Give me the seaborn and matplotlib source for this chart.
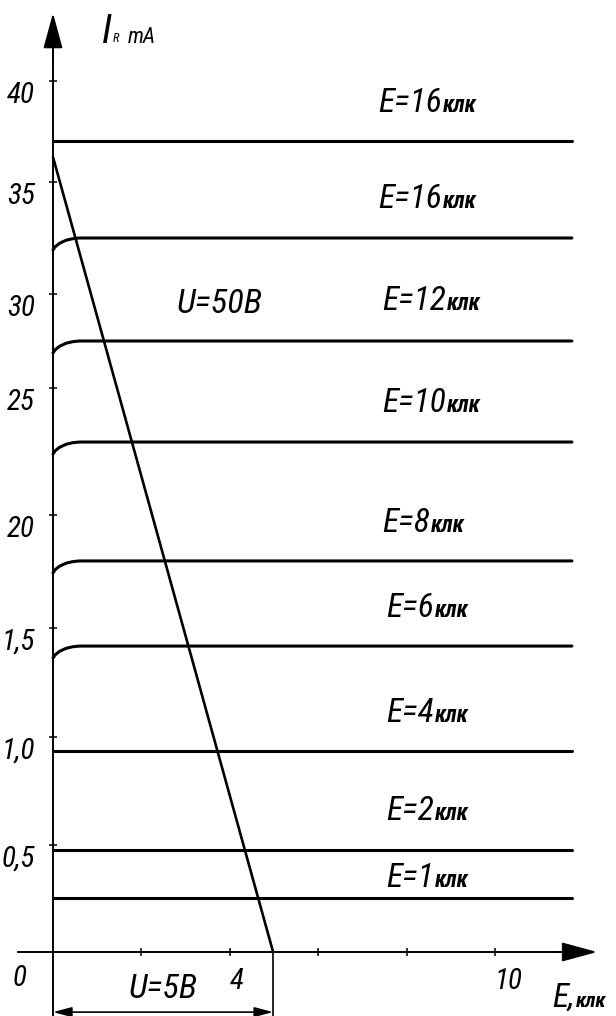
import matplotlib
matplotlib.use("Agg")
import numpy as np
import pandas as pd
import seaborn as sns
import matplotlib.pyplot as plt
from matplotlib import font_manager as fm

# ---------------- data ----------------
E_labels = ["E=16", "E=16", "E=12", "E=10", "E=8", "E=6", "E=4", "E=2", "E=1"]
unit_label = "клк"
I_sat = [37.24, 32.79, 28.06, 23.42, 17.96, 14.05, 9.23, 4.68, 2.48]
has_knee = [False, True, True, True, True, True, False, False, False]
knee_E = [0.0, 0.05, 0.15, 0.30, 0.45, 0.60]
knee_drop = [0.55, 0.40, 0.24, 0.10, 0.03, 0.0]
E_end = 11.74

load_E = [0.0, 4.98]
load_I = [36.51, 0.0]

y_tick_vals = [4.91, 9.87, 14.88, 20.07, 25.9, 30.22, 35.36, 40.0]
y_tick_labels = ["0,5", "1,0", "1,5", "20", "25", "30", "35", "40"]
x_tick_vals = [2, 4, 6, 8, 10]
x_tick_labels = ["", "4", "", "", "10"]

# label anchor positions (data units)
label_x = [7.35, 7.35, 7.44, 7.44, 7.44, 7.53, 7.53, 7.53, 7.53]
label_y = [38.58, 34.17, 29.48, 24.80, 19.29, 15.38, 10.56, 6.06, 2.99]

# ---------------- build long table ----------------
rows = []
for i, (lev, knee) in enumerate(zip(I_sat, has_knee)):
    if knee:
        for e, d in zip(knee_E, knee_drop):
            rows.append((i, e, lev - d))
        rows.append((i, E_end, lev))
    else:
        rows.append((i, 0.0, lev))
        rows.append((i, E_end, lev))
df = pd.DataFrame(rows, columns=["curve", "E", "I"])
load_df = pd.DataFrame({"E": load_E, "I": load_I})

# ---------------- font choice (prefer a narrow face) ----------------
sns.set_theme(style="white")
entries = fm.fontManager.ttflist
names = {f.name for f in entries}
FAM, STRETCH = "DejaVu Sans", "normal"
for cand in ["Liberation Sans Narrow", "Roboto Condensed", "Open Sans Condensed",
             "Noto Sans Condensed", "DejaVu Sans Condensed"]:
    if cand in names:
        FAM = cand
        break
else:
    def _st(v):
        return v if isinstance(v, (int, float)) else {
            "ultra-condensed": 100, "extra-condensed": 200, "condensed": 300,
            "semi-condensed": 400, "normal": 500}.get(v, 500)
    found = False
    for fam in ["Noto Sans", "Open Sans", "Roboto", "DejaVu Sans"]:
        for f in entries:
            if f.name == fam and _st(f.stretch) in (200, 300, 400) and f.style != "normal":
                FAM, STRETCH, found = fam, f.stretch, True
                break
        if found:
            break
    if not found:
        for fam in ["Noto Sans", "Open Sans", "Roboto", "DejaVu Sans"]:
            for f in entries:
                if f.name == fam and _st(f.stretch) in (200, 300, 400):
                    FAM, STRETCH, found = fam, f.stretch, True
                    break
            if found:
                break

FONT = dict(family=[FAM, "DejaVu Sans"], stretch=STRETCH, style="italic")
plt.rcParams["font.family"] = [FAM, "DejaVu Sans"]
plt.rcParams["text.color"] = "black"

fig = plt.figure(figsize=(6.16, 10.16), dpi=100)
ax = fig.add_axes([0, 0, 1, 1])
XMIN, XMAX = -1.199, 12.738
YMIN, YMAX = -2.939, 43.72
ax.set_xlim(XMIN, XMAX)
ax.set_ylim(YMIN, YMAX)
ax.set_facecolor("white")

sns.lineplot(data=df, x="E", y="I", units="curve", estimator=None, sort=False,
             color="black", lw=2.2, legend=False, ax=ax)
sns.lineplot(data=load_df, x="E", y="I", estimator=None, sort=False,
             color="black", lw=1.9, legend=False, ax=ax)
ax.set_xlabel("")
ax.set_ylabel("")

# axes spines through origin
for s in ["top", "right"]:
    ax.spines[s].set_visible(False)
ax.spines["left"].set_position(("data", 0))
ax.spines["bottom"].set_position(("data", 0))
ax.spines["left"].set_bounds(YMIN, 42.0)
ax.spines["bottom"].set_bounds(-0.79, 11.8)
for s in ["left", "bottom"]:
    ax.spines[s].set_color("black")
    ax.spines[s].set_linewidth(1.4)

# arrow heads
ax.annotate("", xy=(0, 43.12), xytext=(0, 41.0),
            arrowprops=dict(arrowstyle="-|>,head_length=1.1,head_width=0.3",
                            mutation_scale=20, color="black", lw=1.4,
                            shrinkA=0, shrinkB=0))
ax.annotate("", xy=(12.31, 0), xytext=(11.3, 0),
            arrowprops=dict(arrowstyle="-|>,head_length=1.1,head_width=0.3",
                            mutation_scale=20, color="black", lw=1.4,
                            shrinkA=0, shrinkB=0))

renderer = fig.canvas.get_renderer()


def width_px(t):
    return t.get_window_extent(renderer).width


def fit(t, target_w):
    t.set_fontsize(t.get_fontsize() * target_w / width_px(t))
    return t.get_fontsize()


# tick label size: "40" is ~28 px wide in the reference
probe = ax.text(0, 0, "40", fontsize=20, **FONT)
tick_size = min(fit(probe, 28), 21.0)
probe.remove()

ax.set_yticks(y_tick_vals, y_tick_labels)
ax.set_xticks(x_tick_vals, x_tick_labels)
ax.tick_params(axis="both", direction="inout", length=6, width=1.1,
               colors="black", left=True, bottom=True)
ax.tick_params(axis="y", pad=10)
ax.tick_params(axis="x", pad=8)
for lbl in ax.get_yticklabels() + ax.get_xticklabels():
    lbl.set_family(FONT["family"])
    lbl.set_stretch(STRETCH)
    lbl.set_style("italic")
    lbl.set_fontsize(tick_size)
for lbl in ax.get_yticklabels():
    lbl.set_verticalalignment("top")
for lbl in ax.get_xticklabels():
    lbl.set_horizontalalignment("left")

ax.text(-0.75, -1.19, "0", fontsize=tick_size, ha="center", va="center", **FONT)

# dimension line U=5B
ax.vlines(load_E[-1], YMIN, 0, color="black", lw=1.2)
ax.annotate("", xy=(load_E[0], -2.76), xytext=(load_E[-1], -2.76),
            arrowprops=dict(arrowstyle="<|-|>,head_length=0.75,head_width=0.2",
                            mutation_scale=15, color="black", lw=1.2,
                            shrinkA=0, shrinkB=0))
tU5 = ax.text(1.70, -2.11, "U=5B", fontsize=24, ha="left", va="baseline", **FONT)
fit(tU5, 69)
tU50 = ax.text(2.80, 29.35, "U=50B", fontsize=24, ha="left", va="baseline", **FONT)
fit(tU50, 86)

# E labels
probeE = ax.text(0, 0, "E=16", fontsize=24, **FONT)
sizeE = fit(probeE, 64)
probeE.remove()
probeK = ax.text(0, 0, unit_label, fontsize=14, fontweight="bold", **FONT)
sizeK = fit(probeK, 34)
probeK.remove()

big = []
for lab, x, y in zip(E_labels, label_x, label_y):
    t = ax.text(x, y, lab, fontsize=sizeE, ha="left", va="baseline", **FONT)
    big.append((t, y, sizeK))
tE = ax.text(11.30, -2.53, "E,", fontsize=sizeE, ha="left", va="baseline", **FONT)
big.append((tE, -2.53, sizeK * 0.9))

# axis title I_R mA
tI = ax.text(1.11, 41.74, "I", fontsize=29, ha="left", va="baseline", **FONT)
bbI = tI.get_window_extent(renderer)
inv = ax.transData.inverted()
xR = inv.transform((bbI.x1 + 1, 0))[0]
ax.text(xR, 41.79, "R", fontsize=9, ha="left", va="baseline", **FONT)
tm = ax.text(1.70, 41.74, "mA", fontsize=15, ha="left", va="baseline", **FONT)
fit(tm, 28)

for t, y, sz in big:
    bb = t.get_window_extent(renderer)
    xr = inv.transform((bb.x1, 0))[0]
    ax.text(xr + 0.02, y, unit_label, fontsize=sz, fontweight="bold",
            ha="left", va="baseline", **FONT)

fig.savefig("out.png", dpi=100, facecolor="white")
